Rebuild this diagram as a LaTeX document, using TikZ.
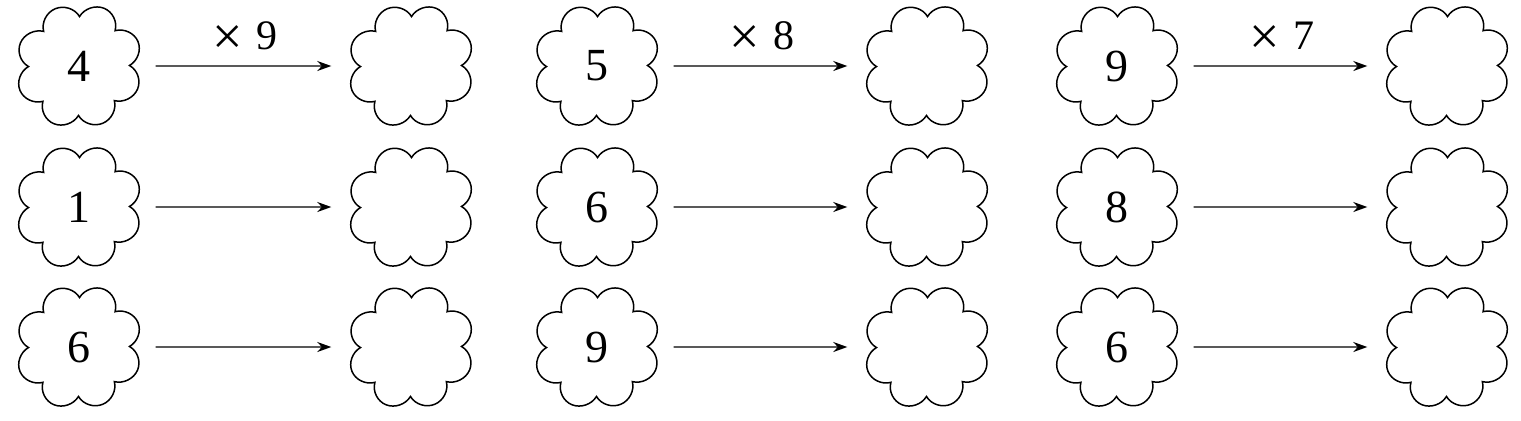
\documentclass[tikz,border=0pt]{standalone}
\usepackage{fontspec}
\setmainfont{Liberation Serif}
\usetikzlibrary{shapes.symbols, arrows.meta}

\begin{document}
\begin{tikzpicture}[x=0.5pt, y=-0.5pt, >={Stealth[length=7pt,width=5pt]},
    flower/.style={cloud, cloud puffs=8, cloud puff arc=165, aspect=1, draw, line width=0.75pt,
      minimum width=62pt, minimum height=62pt, inner sep=0pt, rotate=22.5, xscale=1.03},
    num/.style={font=\fontsize{23}{26}\selectfont},
    times/.style={above=2pt, font=\fontsize{21}{24}\selectfont},
    link/.style={->, line width=0.7pt, shorten <=12pt, shorten >=13.5pt}]
    \useasboundingbox (0,0) rectangle (1521,420);

    \node[flower] (a1) at (79,66) {};   \node[num] (na1) at (a1) {4};
    \node[flower] (b1) at (411,66) {};
    \node[flower] (a2) at (79,207) {};  \node[num] (na2) at (a2) {1};
    \node[flower] (b2) at (411,207) {};
    \node[flower] (a3) at (79,347) {};  \node[num] (na3) at (a3) {6};
    \node[flower] (b3) at (411,347) {};

    \node[flower] (c1) at (597,66) {};  \node[num] (nc1) at (c1) {5};
    \node[flower] (d1) at (927,66) {};
    \node[flower] (c2) at (597,207) {}; \node[num] (nc2) at (c2) {6};
    \node[flower] (d2) at (927,207) {};
    \node[flower] (c3) at (597,347) {}; \node[num] (nc3) at (c3) {9};
    \node[flower] (d3) at (927,347) {};

    \node[flower] (e1) at (1117,66) {}; \node[num] (ne1) at (e1) {9};
    \node[flower] (f1) at (1447,66) {};
    \node[flower] (e2) at (1117,207) {};\node[num] (ne2) at (e2) {8};
    \node[flower] (f2) at (1447,207) {};
    \node[flower] (e3) at (1117,347) {};\node[num] (ne3) at (e3) {6};
    \node[flower] (f3) at (1447,347) {};

    \draw[link] (a1) -- node[times] {\raisebox{-2.5pt}{\fontsize{27}{28}\selectfont ×}\hspace{7pt}9} (b1);
    \draw[link] (a2) -- (b2);
    \draw[link] (a3) -- (b3);

    \draw[link] (c1) -- node[times] {\raisebox{-2.5pt}{\fontsize{27}{28}\selectfont ×}\hspace{7pt}8} (d1);
    \draw[link] (c2) -- (d2);
    \draw[link] (c3) -- (d3);

    \draw[link] (e1) -- node[times] {\raisebox{-2.5pt}{\fontsize{27}{28}\selectfont ×}\hspace{7pt}7} (f1);
    \draw[link] (e2) -- (f2);
    \draw[link] (e3) -- (f3);
\end{tikzpicture}
\end{document}
